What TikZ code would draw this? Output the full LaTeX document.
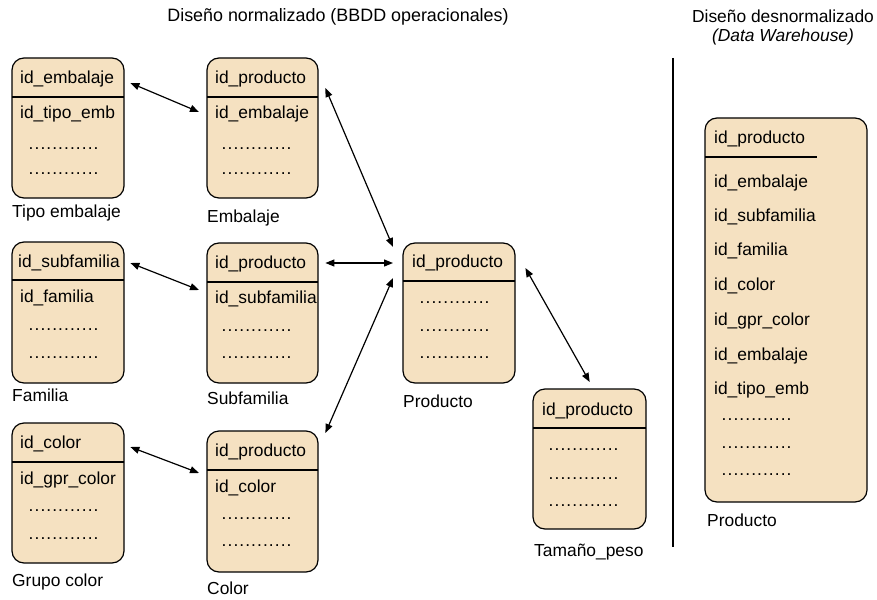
\documentclass[tikz,border=0pt]{standalone}
\usepackage{fontspec}
\setmainfont{Liberation Sans}
\usetikzlibrary{arrows.meta}
\definecolor{boxfill}{RGB}{245,225,193}
\newcommand{\dotrow}{\foreach \k in {1,...,12}{\makebox[5.9pt][c]{.}}}
\begin{document}
\begin{tikzpicture}[x=1pt,y=-1pt,
  every node/.style={font=\fontsize{17.4pt}{20pt}\selectfont, inner sep=0pt},
  ttl/.style={font=\fontsize{17.9pt}{20pt}\selectfont},
  tbox/.style={draw, line width=1.2pt, fill=boxfill, rounded corners=12pt},
  fld/.style={anchor=west, text height=12.5pt, text depth=3.6pt, yshift=-1pt},
  dts/.style={anchor=base west},
  lbl/.style={anchor=west, text height=12.5pt, text depth=3.6pt},
  divl/.style={line width=1.2pt},
  rel/.style={line width=1.2pt, {Triangle[length=9pt,width=7pt]}-{Triangle[length=9pt,width=7pt]}}]
\useasboundingbox (0,0) rectangle (877,599);

% titles
\node[ttl] (t1) at (338,17) {Diseño normalizado (BBDD operacionales)};
\node (t2) at (783,16) {Diseño desnormalizado};
\node (t3) at (783,37) {\itshape (Data Warehouse)};
\coordinate (sepA) at (673,58);
\coordinate (sepB) at (673,547);
\draw[line width=1.2pt] (sepA) -- (sepB);

% Tipo embalaje
\draw[tbox] (12,58) rectangle (124,198);
\node[minimum width=112pt, minimum height=140pt, anchor=north west] (te) at (12,58) {};
\draw[divl] (12,97) -- (124,97);
\node[fld] (te1) at (20,78) {id\_embalaje};
\node[fld] (te2) at (20,113) {id\_tipo\_emb};
\node[dts] (te3) at (28,149) {\dotrow};
\node[dts] (te4) at (28,174) {\dotrow};
\node[lbl] (tel) at (12,213) {Tipo embalaje};

% Embalaje
\draw[tbox] (207,58) rectangle (318,198);
\node[minimum width=111pt, minimum height=140pt, anchor=north west] (em) at (207,58) {};
\draw[divl] (207,97) -- (318,97);
\node[fld] (em1) at (215,78) {id\_producto};
\node[fld] (em2) at (215,113) {id\_embalaje};
\node[dts] (em3) at (221,149) {\dotrow};
\node[dts] (em4) at (221,174) {\dotrow};
\node[lbl] (eml) at (207,218) {Embalaje};

% Familia
\draw[tbox] (12,242) rectangle (124,383);
\node[minimum width=112pt, minimum height=141pt, anchor=north west] (fa) at (12,242) {};
\draw[divl] (12,280) -- (124,280);
\node[fld] (fa1) at (18,262) {id\_subfamilia};
\node[fld] (fa2) at (20,297) {id\_familia};
\node[dts] (fa3) at (28,330) {\dotrow};
\node[dts] (fa4) at (28,358) {\dotrow};
\node[lbl] (fal) at (12,397) {Familia};

% Subfamilia
\draw[tbox] (207,243) rectangle (318,383);
\node[minimum width=111pt, minimum height=140pt, anchor=north west] (sf) at (207,243) {};
\draw[divl] (207,282) -- (318,282);
\node[fld] (sf1) at (215,263) {id\_producto};
\node[fld] (sf2) at (215,298) {id\_subfamilia};
\node[dts] (sf3) at (221,331) {\dotrow};
\node[dts] (sf4) at (221,358) {\dotrow};
\node[lbl] (sfl) at (207,400) {Subfamilia};

% Grupo color
\draw[tbox] (12,423) rectangle (124,563);
\node[minimum width=112pt, minimum height=140pt, anchor=north west] (gc) at (12,423) {};
\draw[divl] (12,462) -- (124,462);
\node[fld] (gc1) at (20,443) {id\_color};
\node[fld] (gc2) at (20,479) {id\_gpr\_color};
\node[dts] (gc3) at (28,511) {\dotrow};
\node[dts] (gc4) at (28,539) {\dotrow};
\node[lbl] (gcl) at (12,582) {Grupo color};

% Color
\draw[tbox] (207,431) rectangle (318,572);
\node[minimum width=111pt, minimum height=141pt, anchor=north west] (co) at (207,431) {};
\draw[divl] (207,470) -- (318,470);
\node[fld] (co1) at (215,451) {id\_producto};
\node[fld] (co2) at (215,487) {id\_color};
\node[dts] (co3) at (221,519) {\dotrow};
\node[dts] (co4) at (221,546) {\dotrow};
\node[lbl] (col) at (207,590) {Color};

% Producto
\draw[tbox] (403,243) rectangle (515,383);
\node[minimum width=112pt, minimum height=140pt, anchor=north west] (pr) at (403,243) {};
\draw[divl] (403,281) -- (515,281);
\node[fld] (pr1) at (412,262) {id\_producto};
\node[dts] (pr3) at (419,303) {\dotrow};
\node[dts] (pr4) at (419,331) {\dotrow};
\node[dts] (pr5) at (419,358) {\dotrow};
\node[lbl] (prl) at (403,403) {Producto};

% Tamano_peso
\draw[tbox] (533,389) rectangle (646,529);
\node[minimum width=113pt, minimum height=140pt, anchor=north west] (tp) at (533,389) {};
\draw[divl] (533,428) -- (646,428);
\node[fld] (tp1) at (542,410) {id\_producto};
\node[dts] (tp3) at (548,450) {\dotrow};
\node[dts] (tp4) at (548,479) {\dotrow};
\node[dts] (tp5) at (548,506) {\dotrow};
\node[lbl] (tpl) at (534,552) {Tamaño\_peso};

% Producto desnormalizado
\draw[tbox] (705,118) rectangle (867,502);
\node[minimum width=162pt, minimum height=384pt, anchor=north west] (dw) at (705,118) {};
\draw[divl] (705,157) -- (817,157);
\node[fld] (dw1) at (714,138) {id\_producto};
\node[fld] (dw2) at (714,182) {id\_embalaje};
\node[fld] (dw3) at (714,216) {id\_subfamilia};
\node[fld] (dw4) at (714,250) {id\_familia};
\node[fld] (dw5) at (714,285) {id\_color};
\node[fld] (dw6) at (714,320) {id\_gpr\_color};
\node[fld] (dw7) at (714,355) {id\_embalaje};
\node[fld] (dw8) at (714,389) {id\_tipo\_emb};
\node[dts] (dw9) at (721,420) {\dotrow};
\node[dts] (dw10) at (721,448) {\dotrow};
\node[dts] (dw11) at (721,475) {\dotrow};
\node[lbl] (dwl) at (707,522) {Producto};

% relations
\draw[rel] ([xshift=6pt,yshift=-25pt]te.north east) -- ([xshift=-8pt,yshift=-54pt]em.north west);
\draw[rel] ([xshift=7pt,yshift=-30pt]em.north east) -- ([xshift=-10pt,yshift=-4pt]pr.north west);
\draw[rel] ([xshift=6pt,yshift=-21pt]fa.north east) -- ([xshift=-8pt,yshift=-47pt]sf.north west);
\draw[rel] ([xshift=7pt,yshift=-20pt]sf.north east) -- ([xshift=-10pt,yshift=-20pt]pr.north west);
\draw[rel] ([xshift=7pt,yshift=-2pt]co.north east) -- ([xshift=-10pt,yshift=-35pt]pr.north west);
\draw[rel] ([xshift=6pt,yshift=-24pt]gc.north east) -- ([xshift=-8pt,yshift=-42pt]co.north west);
\draw[rel] ([xshift=10pt,yshift=-25pt]pr.north east) -- ([yshift=7pt]tp.north);
\end{tikzpicture}
\end{document}
